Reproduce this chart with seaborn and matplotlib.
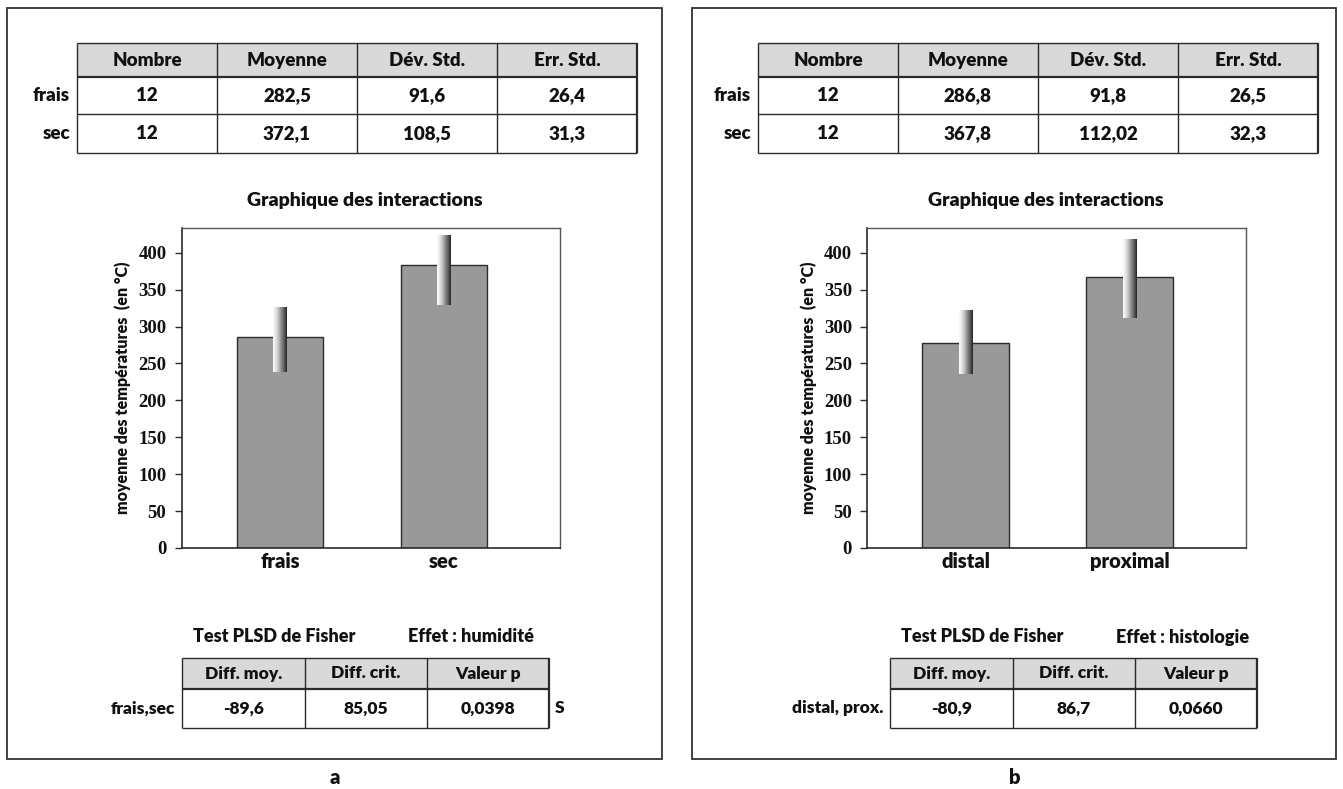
import numpy as np
import pandas as pd
import matplotlib
matplotlib.use("Agg")
import matplotlib.pyplot as plt
import seaborn as sns

# ---- data ------------------------------------------------------------
TABLE_COLS = ["Nombre", "Moyenne", "Dév. Std.", "Err. Std."]
TABLE_ROWS = ["frais", "sec"]
TABLE_A = [["12", "282,5", "91,6", "26,4"],
           ["12", "372,1", "108,5", "31,3"]]
TABLE_B = [["12", "286,8", "91,8", "26,5"],
           ["12", "367,8", "112,02", "32,3"]]

CATS_A = ["frais", "sec"]
MEANS_A = [286, 383]
ERR_LOW_A = [238.6, 329.5]
ERR_HIGH_A = [325.4, 423]

CATS_B = ["distal", "proximal"]
MEANS_B = [278, 367]
ERR_LOW_B = [235.4, 311.6]
ERR_HIGH_B = [322, 418]

YTICKS = [0, 50, 100, 150, 200, 250, 300, 350, 400]

PLSD_COLS = ["Diff. moy.", "Diff. crit.", "Valeur p"]
PLSD_A = ["-89,6", "85,05", "0,0398"]
PLSD_B = ["-80,9", "86,7", "0,0660"]
PLSD_LABEL_A = "frais,sec"
PLSD_LABEL_B = "distal, prox."
EFFET_A = "Effet : humidité"
EFFET_B = "Effet : histologie"
SIG_A = "S"
SIG_B = ""

# ---- style -----------------------------------------------------------
sns.set_theme(style="white")
plt.rcParams["font.family"] = ["Lato", "DejaVu Sans"]
SANS = ["Lato", "DejaVu Sans"]
SERIF = ["Liberation Serif", "DejaVu Serif"]
WT = "heavy"
W, H = 1343, 789
BAR_COLOR = "#999999"
EDGE = "#2b2b2b"
HEAD_FILL = "#d9d9d9"
TXT = "#111111"

fig = plt.figure(figsize=(W / 100, H / 100), dpi=100)
ov = fig.add_axes([0, 0, 1, 1], zorder=0)
ov.set_xlim(0, W)
ov.set_ylim(H, 0)
ov.axis("off")


def draw_table(x0, y_edges, col_w, header, rows, row_labels, fs=13.5):
    ncol = len(header)
    # header background
    ov.add_patch(plt.Rectangle((x0, y_edges[0]), col_w * ncol, y_edges[1] - y_edges[0],
                               facecolor=HEAD_FILL, edgecolor="none"))
    # horizontal lines
    for i, y in enumerate(y_edges):
        lw = 1.6 if i == 1 else 1.0
        ov.plot([x0, x0 + col_w * ncol], [y, y], color=EDGE, lw=lw, solid_capstyle="butt")
    # vertical lines
    for j in range(ncol + 1):
        xx = x0 + j * col_w
        lw = 1.6 if j == ncol else 1.0
        ov.plot([xx, xx], [y_edges[0], y_edges[-1]], color=EDGE, lw=lw, solid_capstyle="butt")
    for j, h in enumerate(header):
        ov.text(x0 + (j + 0.5) * col_w, (y_edges[0] + y_edges[1]) / 2, h, ha="center",
                va="center", fontsize=fs, fontweight=WT, color=TXT)
    for i, row in enumerate(rows):
        yc = (y_edges[i + 1] + y_edges[i + 2]) / 2
        for j, v in enumerate(row):
            ov.text(x0 + (j + 0.5) * col_w, yc, v, ha="center", va="center",
                    fontsize=fs, fontweight=WT, color=TXT)
        ov.text(x0 - 7, yc, row_labels[i], ha="right", va="center",
                fontsize=fs, fontweight=WT, color=TXT)


def draw_chart(left_px, cats, means, lows, highs):
    ax = fig.add_axes([left_px / W, (H - 548) / H, 378.6 / W, (548 - 227.7) / H], zorder=2)
    df = pd.DataFrame({"cat": cats, "val": means})
    sns.barplot(data=df, x="cat", y="val", color=BAR_COLOR, edgecolor=EDGE,
                linewidth=1.0, width=0.53, saturation=1, ax=ax)
    grad = np.linspace(0.03, 0.88, 64).reshape(1, -1)
    ew = 0.085
    for i in range(len(cats)):
        ax.imshow(grad, cmap="Greys", vmin=0, vmax=1, aspect="auto", zorder=5,
                  extent=[i - ew / 2, i + ew / 2, lows[i], highs[i]], interpolation="bilinear")
    ax.set_xlim(-0.6, 1.71)
    ax.set_ylim(0, 434)
    ax.set_yticks(YTICKS)
    ax.set_yticklabels([str(t) for t in YTICKS], fontfamily=SERIF, fontweight="bold",
                       fontsize=13.5, color=TXT)
    ax.tick_params(axis="y", length=5, width=1, color=EDGE, pad=6, left=True, direction="out")
    ax.tick_params(axis="x", length=0, pad=3)
    for lab in ax.get_xticklabels():
        lab.set_fontsize(14.5)
        lab.set_fontweight(WT)
        lab.set_fontfamily(SANS)
        lab.set_color(TXT)
    ax.set_xlabel("")
    ax.set_ylabel("moyenne des températures  (en °C)", fontsize=11.5, fontweight=WT,
                  labelpad=5, color=TXT)
    for s in ["left", "bottom"]:
        ax.spines[s].set_color(EDGE)
        ax.spines[s].set_linewidth(1.2)
    for s in ["top", "right"]:
        ax.spines[s].set_color("#555555")
        ax.spines[s].set_linewidth(1.0)
    return ax


def draw_panel(dx_box, box_w, dx_top, dx_axes, dx_bot, table_vals, cats, means, lows, highs,
               plsd_vals, plsd_label, effet, sig, letter, title_x, letter_x):
    # frame
    ov.add_patch(plt.Rectangle((7 + dx_box, 8), box_w, 751, facecolor="none",
                               edgecolor="#333333", lw=1.3))
    draw_table(77 + dx_top, [43, 77, 114, 153], 140, TABLE_COLS, table_vals, TABLE_ROWS)
    ov.text(title_x, 200, "Graphique des interactions", ha="center", va="center",
            fontsize=14, fontweight=WT, color=TXT)
    draw_chart(181.7 + dx_axes, cats, means, lows, highs)
    ov.text(193 + dx_bot, 637, "Test PLSD de Fisher", ha="left", va="center",
            fontsize=13, fontweight=WT, color=TXT)
    ov.text(408 + dx_bot, 637, effet, ha="left", va="center",
            fontsize=13, fontweight=WT, color=TXT)
    draw_table(182.3 + dx_bot, [658, 689, 728], 122.3, PLSD_COLS, [plsd_vals], [plsd_label], fs=12.5)
    if sig:
        ov.text(555 + dx_bot, 708, sig, ha="left", va="center", fontsize=12.5,
                fontweight=WT, color=TXT)
    ov.text(letter_x, 778, letter, ha="center", va="center",
            fontsize=14.5, fontweight=WT, color=TXT)


draw_panel(0, 655, 0, 0, 0, TABLE_A, CATS_A, MEANS_A, ERR_LOW_A, ERR_HIGH_A,
           PLSD_A, PLSD_LABEL_A, EFFET_A, SIG_A, "a", 365, 335)
draw_panel(685, 644, 681, 685.6, 708, TABLE_B, CATS_B, MEANS_B, ERR_LOW_B, ERR_HIGH_B,
           PLSD_B, PLSD_LABEL_B, EFFET_B, SIG_B, "b", 1046, 1015)

fig.savefig("out.png", dpi=100, facecolor="white")
